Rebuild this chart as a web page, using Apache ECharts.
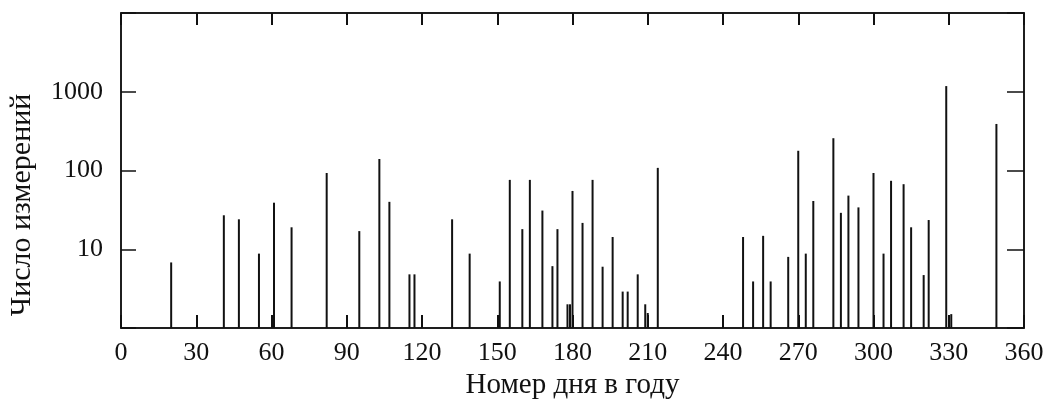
<!DOCTYPE html>
<html>
<head>
<meta charset="utf-8">
<script src="https://cdn.jsdelivr.net/npm/echarts@6/dist/echarts.min.js"></script>
<style>
  html, body { margin: 0; padding: 0; background: #fff; }
  #chart { width: 1055px; height: 400px; }
</style>
</head>
<body>
<div id="chart"></div>
<script>
// номер дня и число измерений
var days = [20, 41, 47, 55, 61, 68, 82, 95, 103, 107, 115, 117, 132, 139,
    151, 155, 160, 163, 168, 172, 174, 178, 179, 180, 184, 188, 192, 196,
    200, 202, 206, 209, 210, 214,
    248, 252, 256, 259, 266, 270, 273, 276, 284, 287, 290, 294, 300, 304,
    307, 312, 315, 320, 322, 329, 331, 349];
var counts = [6.8, 27, 24, 8.8, 39, 19, 93, 17, 140, 40, 4.8, 4.8, 24, 8.8,
    3.9, 76, 18, 76, 31, 6.1, 18, 2, 2, 55, 21.6, 76, 6, 14.3,
    2.9, 2.9, 4.8, 2, 1.55, 108,
    14.3, 3.9, 14.8, 3.9, 8, 178, 8.8, 41, 257, 29, 48, 34, 93, 8.8,
    74, 67, 19, 4.7, 23.5, 1180, 1.5, 390];
var xTicks = [0, 30, 60, 90, 120, 150, 180, 210, 240, 270, 300, 330, 360];
var yTicks = [10, 100, 1000];

var font = 'Liberation Serif';
var chart = echarts.init(document.getElementById('chart'));

var pts = days.map(function (d, i) { return [d, counts[i]]; });

var option = {
    backgroundColor: '#fff',
    animation: false,
    grid: {
        left: 121,
        right: 31,
        top: 13,
        bottom: 72,
        containLabel: false,
        outerBoundsMode: 'none',
        show: true,
        borderColor: '#111',
        borderWidth: 1.5
    },
    graphic: [{
        type: 'text',
        x: 22,
        y: 205,
        rotation: Math.PI / 2,
        style: {
            text: 'Число измерений',
            font: '30px "' + font + '"',
            fill: '#111',
            align: 'center',
            verticalAlign: 'middle'
        }
    }],
    xAxis: [{
        type: 'value',
        min: xTicks[0],
        max: xTicks[xTicks.length - 1],
        interval: 30,
        name: 'Номер дня в году',
        nameLocation: 'middle',
        nameGap: 42,
        nameTextStyle: { fontFamily: font, fontSize: 29, color: '#111' },
        axisLine: { show: true, onZero: false, lineStyle: { color: '#111', width: 1.5 } },
        axisTick: { show: true, inside: true, length: 13, lineStyle: { color: '#111', width: 2 } },
        axisLabel: { fontFamily: font, fontSize: 26, color: '#111', margin: 12, showMinLabel: true, showMaxLabel: true },
        splitLine: { show: false }
    }, {
        type: 'value',
        position: 'top',
        min: xTicks[0],
        max: xTicks[xTicks.length - 1],
        interval: 30,
        axisLine: { show: true, onZero: false, lineStyle: { color: '#111', width: 1.5 } },
        axisTick: { show: true, inside: true, length: 12, lineStyle: { color: '#111', width: 2 } },
        axisLabel: { show: false },
        splitLine: { show: false }
    }],
    yAxis: [{
        type: 'log',
        logBase: 10,
        min: 1,
        max: 10000,
        axisLine: { show: true, onZero: false, lineStyle: { color: '#111', width: 1.5 } },
        axisTick: { show: true, inside: true, length: 15, lineStyle: { color: '#111', width: 1.5 } },
        axisLabel: {
            fontFamily: font, fontSize: 26, color: '#111', margin: 18,
            formatter: function (v) {
                return yTicks.indexOf(Math.round(v)) >= 0 ? String(Math.round(v)) : '';
            }
        },
        splitLine: { show: false }
    }, {
        type: 'log',
        logBase: 10,
        min: 1,
        max: 10000,
        position: 'right',
        axisLine: { show: true, onZero: false, lineStyle: { color: '#111', width: 1.5 } },
        axisTick: { show: true, inside: true, length: 17, lineStyle: { color: '#111', width: 1.5 } },
        axisLabel: { show: false },
        splitLine: { show: false }
    }],
    series: [{
        type: 'bar',
        xAxisIndex: 0,
        yAxisIndex: 0,
        barWidth: 2,
        itemStyle: { color: '#111' },
        data: pts
    }]
};
chart.setOption(option);
</script>
</body>
</html>
